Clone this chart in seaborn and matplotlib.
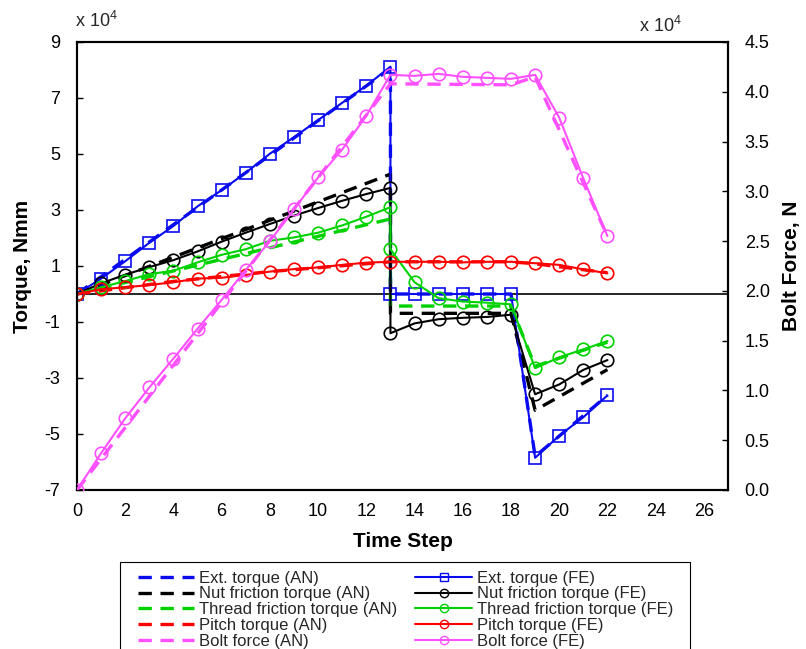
import matplotlib
matplotlib.use("Agg")
import matplotlib.pyplot as plt
from matplotlib.lines import Line2D
from matplotlib.patches import Rectangle
import seaborn as sns

# ---------------- data ----------------
steps_fe_drop = [0, 1, 2, 3, 4, 5, 6, 7, 8, 9, 10, 11, 12, 13, 13, 14, 15, 16, 17, 18, 19, 20, 21, 22]
steps_fe = list(range(23))

ext_fe = [0, 0.55, 1.17, 1.83, 2.43, 3.13, 3.71, 4.33, 5.01, 5.60, 6.21, 6.83, 7.44, 8.12,
          0, 0, 0, 0, 0, 0, -5.85, -5.06, -4.40, -3.62]
nut_fe = [0, 0.38, 0.69, 0.96, 1.21, 1.52, 1.87, 2.19, 2.50, 2.80, 3.07, 3.33, 3.57, 3.79,
          -1.40, -1.05, -0.90, -0.85, -0.82, -0.74, -3.58, -3.23, -2.71, -2.36]
thread_fe = [0, 0.24, 0.46, 0.71, 0.83, 1.13, 1.40, 1.60, 1.90, 2.02, 2.19, 2.45, 2.76, 3.10,
             1.60, 0.42, -0.15, -0.27, -0.31, -0.37, -2.65, -2.26, -1.98, -1.68]
pitch_fe = [0, 0.17, 0.24, 0.32, 0.42, 0.55, 0.58, 0.68, 0.80, 0.89, 0.95, 1.04, 1.12, 1.15,
            1.15, 1.15, 1.13, 1.15, 1.15, 1.10, 1.04, 0.88, 0.74]
bolt_fe = [0, 0.37, 0.72, 1.03, 1.32, 1.62, 1.91, 2.21, 2.50, 2.82, 3.14, 3.42, 3.76, 4.17,
           4.16, 4.18, 4.15, 4.14, 4.13, 4.17, 3.74, 3.13, 2.55]

steps_an_drop = [0, 13, 13, 18, 19, 22]
ext_an = [0, 8.05, 0, 0, -5.80, -3.62]
nut_an = [0, 4.28, -0.69, -0.69, -4.15, -2.70]
thread_an = [0, 2.68, -0.43, -0.43, -2.58, -1.72]
steps_an_pitch = [0, 4, 8, 13, 18, 19, 22]
pitch_an = [0, 0.45, 0.80, 1.15, 1.15, 1.08, 0.76]
steps_an_bolt = [0, 13, 18, 19, 22]
bolt_an = [0, 4.08, 4.07, 4.15, 2.55]

labels_an = ["Ext. torque (AN)", "Nut friction torque (AN)", "Thread friction torque (AN)",
             "Pitch torque (AN)", "Bolt force (AN)"]
labels_fe = ["Ext. torque (FE)", "Nut friction torque (FE)", "Thread friction torque (FE)",
             "Pitch torque (FE)", "Bolt force (FE)"]

x_ticks = list(range(0, 27, 2))
left_ticks = [-7, -5, -3, -1, 1, 3, 5, 7, 9]
right_ticks = [0.0, 0.5, 1.0, 1.5, 2.0, 2.5, 3.0, 3.5, 4.0, 4.5]

# ---------------- style ----------------
sns.set_theme(style="white")
plt.rcParams["font.family"] = ["Liberation Sans", "DejaVu Sans"]
plt.rcParams["mathtext.fontset"] = "custom"
plt.rcParams["mathtext.rm"] = "Liberation Sans"
plt.rcParams["mathtext.it"] = "Liberation Sans:italic"
plt.rcParams["mathtext.bf"] = "Liberation Sans:bold"

BLUE = "#0A0AF0"
BLACK = "#000000"
GREEN = "#00D200"
RED = "#FF0000"
PINK = "#FF50FF"

fig = plt.figure(figsize=(8.06, 6.49), dpi=100)
ax = fig.add_axes([77 / 806, 1 - 490 / 649, 651 / 806, 448 / 649])
ax2 = ax.twinx()

ax.axhline(0, color="black", lw=1.2, zorder=1)

DASH = (0, (4, 2.6))
LW_AN = 2.4
LW_FE = 1.5
MS = 9
MEW = 1.2

an_series = [(steps_an_drop, ext_an, BLUE, ax), (steps_an_drop, nut_an, BLACK, ax),
             (steps_an_drop, thread_an, GREEN, ax), (steps_an_pitch, pitch_an, RED, ax)]
for xs, ys, c, a in an_series:
    sns.lineplot(x=xs, y=ys, ax=a, color=c, estimator=None, sort=False,
                 linewidth=LW_AN, linestyle=DASH, zorder=3)

fe_series = [(steps_fe_drop, ext_fe, BLUE, "s"), (steps_fe_drop, nut_fe, BLACK, "o"),
             (steps_fe_drop, thread_fe, GREEN, "o"), (steps_fe, pitch_fe, RED, "o")]
for xs, ys, c, m in fe_series:
    sns.lineplot(x=xs, y=ys, ax=ax, color=c, estimator=None, sort=False,
                 linewidth=LW_FE, marker=m, markersize=MS, markerfacecolor="none",
                 markeredgecolor=c, markeredgewidth=MEW, zorder=4)

sns.lineplot(x=steps_an_bolt, y=bolt_an, ax=ax2, color=PINK, estimator=None, sort=False,
             linewidth=LW_AN, linestyle=DASH, zorder=3)
sns.lineplot(x=steps_fe, y=bolt_fe, ax=ax2, color=PINK, estimator=None, sort=False,
             linewidth=LW_FE, marker="o", markersize=MS, markerfacecolor="none",
             markeredgecolor=PINK, markeredgewidth=MEW, zorder=4)

ax.set_xlim(0, 27)
ax.set_ylim(-7, 9)
ax2.set_ylim(0, 4.5)
ax.set_xticks(x_ticks)
ax.set_xticklabels([str(t) for t in x_ticks])
ax.set_yticks(left_ticks)
ax.set_yticklabels([str(t) for t in left_ticks])
ax2.set_yticks(right_ticks)
ax2.set_yticklabels([f"{t:.1f}" for t in right_ticks])

for a in (ax, ax2):
    for s in a.spines.values():
        s.set_color("black")
        s.set_linewidth(1.5)
ax.tick_params(axis="x", length=0, pad=9, labelsize=13, colors="black")
ax.tick_params(axis="y", direction="in", length=4, width=1, pad=12, labelsize=13, colors="black")
ax2.tick_params(axis="y", direction="in", length=4, width=1, pad=12, labelsize=13, colors="black")

ax.set_xlabel("Time Step", fontsize=15, fontweight="bold", labelpad=9, color="black")
ax.set_ylabel("Torque, Nmm", fontsize=15, fontweight="bold", labelpad=9, color="black")
ax2.set_ylabel("Bolt Force, N", fontsize=15, fontweight="bold", labelpad=9, color="black")
ax.grid(False)
ax2.grid(False)

fig.text(96 / 806, 1 - 21 / 649, r"x 10$^{4}$", ha="center", va="center", fontsize=13)
fig.text(660 / 806, 1 - 26 / 649, r"x 10$^{4}$", ha="center", va="center", fontsize=13)

# ---------------- legend ----------------
colors = [BLUE, BLACK, GREEN, RED, PINK]
markers = ["s", "o", "o", "o", "o"]
handles = []
for c, lab in zip(colors, labels_an):
    handles.append(Line2D([], [], color=c, lw=LW_AN, linestyle=DASH, label=lab))
for c, m, lab in zip(colors, markers, labels_fe):
    handles.append(Line2D([], [], color=c, lw=LW_FE, marker=m, markersize=6,
                          markerfacecolor="none", markeredgecolor=c, markeredgewidth=1.0, label=lab))
leg = fig.legend(handles=handles, ncol=2, loc="upper left",
                 bbox_to_anchor=(131 / 806, 0, 549 / 806, 1 - 564 / 649), mode="expand",
                 borderaxespad=0, fontsize=12, handlelength=3.4, handletextpad=0.3,
                 labelspacing=0.045, borderpad=0.4, frameon=False)

fig.patches.append(Rectangle((120 / 806, -0.05), 570 / 806, (1 - 562 / 649) + 0.05,
                             transform=fig.transFigure, fill=False, edgecolor="black",
                             linewidth=0.8, zorder=5))

fig.savefig("out.png", dpi=100)
